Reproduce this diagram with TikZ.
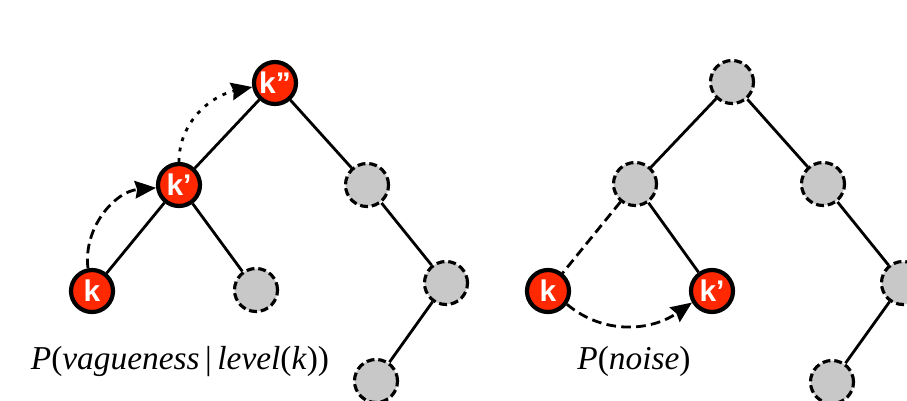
\documentclass[tikz,border=0pt]{standalone}
\usepackage{fontspec}
\setmainfont{Liberation Serif}
\newfontfamily\keyfont{Liberation Sans}
\usepackage{xcolor}
\usepackage{tikz}
\usetikzlibrary{arrows.meta}
\definecolor{keyred}{RGB}{255,40,0}
\definecolor{emptygray}{RGB}{200,200,200}

\begin{document}
\begin{tikzpicture}[
        x=0.2mm, y=-0.2mm,
        keynode/.style={
            circle, draw=black, line width=2.4pt, fill=keyred,
            minimum size=0.84cm, inner sep=0pt,
            text=white, font=\keyfont\bfseries\fontsize{17}{18}\selectfont
        },
        emptynode/.style={
            circle, draw=black, line width=1.8pt, fill=emptygray,
            dash pattern=on 4.5pt off 2.2pt,
            minimum size=0.86cm, inner sep=0pt
        },
        edge/.style={line width=1.6pt},
        jump/.style={line width=1.6pt, -{Stealth[length=12pt,width=10pt,inset=1.2pt]}},
        problabel/.style={font=\fontsize{19}{22}\selectfont}
    ]

    \useasboundingbox (0,0) rectangle (907,400);

    % arvore da esquerda
    \node[keynode] (kpp) at (275,83) {k”};
    \node[keynode] (kp) at (179,185) {k’};
    \node[keynode] (k) at (92,291) {k};
    \node[emptynode] (la) at (256,290) {};
    \node[emptynode] (lb) at (367,185) {};
    \node[emptynode] (lc) at (446,283) {};
    \node[emptynode] (ld) at (376,381) {};

    \draw[edge] (kpp) -- (kp);
    \draw[edge] (kpp) -- (lb);
    \draw[edge] (kp) -- (k);
    \draw[edge] (kp) -- (la);
    \draw[edge] (lb) -- (lc);
    \draw[edge] (lc) -- (ld);

    \draw[jump, dash pattern=on 5.5pt off 3pt] (k.100) to[out=97,in=185] (kp.187);
    \draw[jump, dash pattern=on 2.2pt off 3.8pt] (kp.90) to[out=90,in=192] (kpp.190);

    \node[problabel] (plevel) at (180,362) {\textit{P}(\textit{vagueness}\,|\,\textit{level}(\textit{k}))};

    % arvore da direita
    \node[emptynode] (ra) at (732,82) {};
    \node[emptynode] (rb) at (635,184) {};
    \node[emptynode] (rc) at (823,184) {};
    \node[keynode] (rk) at (548,291) {k};
    \node[keynode] (rkp) at (712,291) {k’};
    \node[emptynode] (rd) at (903,283) {};
    \node[emptynode] (re) at (832,382) {};

    \draw[edge] (ra) -- (rb);
    \draw[edge] (ra) -- (rc);
    \draw[edge, dash pattern=on 5.5pt off 3pt] (rb) -- (rk);
    \draw[edge] (rb) -- (rkp);
    \draw[edge] (rc) -- (rd);
    \draw[edge] (rd) -- (re);

    \draw[jump, dash pattern=on 5.5pt off 3pt] (rk.-35) to[out=-40,in=-145] (rkp.-150);

    \node[problabel] (pnoise) at (634,361) {\textit{P}(\textit{noise})};

\end{tikzpicture}
\end{document}
